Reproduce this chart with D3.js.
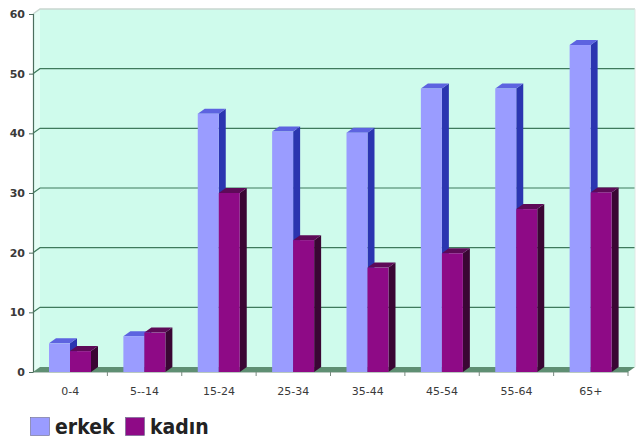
<!DOCTYPE html>
<html>
<head>
<meta charset="utf-8">
<script src="https://cdn.jsdelivr.net/npm/d3@7"></script>
<style>
  html, body { margin: 0; padding: 0; background: #ffffff; }
  svg { display: block; }
</style>
</head>
<body>
<svg id="chart" width="636" height="441"></svg>
<script>
// Age groups and values per series
const categories = ["0-4", "5--14", "15-24", "25-34", "35-44", "45-54", "55-64", "65+"];
const seriesNames = ["erkek", "kadın"];
const erkek = [4.8, 6.0, 43.3, 40.3, 40.1, 47.5, 47.5, 54.8];
const kadin = [3.5, 6.6, 30.0, 22.1, 17.5, 19.9, 27.3, 30.1];
const yTicks = [0, 10, 20, 30, 40, 50, 60];

const seriesValues = [erkek, kadin];
const palette = [
  { front: "#9a9cff", side: "#2b35b0", top: "#5d63e0" },
  { front: "#8e0a86", side: "#3a0634", top: "#5e0a58" }
];

const svg = d3.select("#chart");
const left = 33, right = 628, bottom = 372, topY = 14;
const dx = 7, dy = -5; // depth offset of the 3D box

const x = d3.scaleBand().domain(categories).range([left, right]);
const xs = d3.scaleBand().domain(seriesNames).range([16, 58]);
const y = d3.scaleLinear().domain([0, 60]).range([bottom, topY]);

// Back wall
svg.append("rect")
  .attr("x", left + dx).attr("y", y(60) + dy)
  .attr("width", right - left).attr("height", bottom - y(60))
  .attr("fill", "#cffbec");

// Side wall
svg.append("path")
  .attr("d", `M${left},${bottom}L${left},${y(60)}L${left + dx},${y(60) + dy}L${left + dx},${bottom + dy}Z`)
  .attr("fill", "#e4fdf4");

// Gridlines on the walls (top edge drawn faint)
yTicks.filter(t => t > 0).forEach(t => {
  svg.append("path")
    .attr("d", `M${left},${y(t)}L${left + dx},${y(t) + dy}L${right + dx},${y(t) + dy}`)
    .attr("fill", "none")
    .attr("stroke", t === 60 ? "#c9d6d0" : "#3f7a5c")
    .attr("stroke-width", t === 60 ? 1.5 : 1.2);
});
// Right edge of the back wall
svg.append("line")
  .attr("x1", right + dx).attr("x2", right + dx)
  .attr("y1", y(60) + dy).attr("y2", bottom + dy)
  .attr("stroke", "#dfe8e4");

// Floor
svg.append("path")
  .attr("d", `M${left},${bottom}L${left + dx},${bottom + dy}L${right + dx},${bottom + dy}L${right},${bottom}Z`)
  .attr("fill", "#5f8f73");

// Bars (side, top, front)
categories.forEach((c, i) => {
  seriesNames.forEach((s, j) => {
    const v = seriesValues[j][i];
    const x0 = x(c) + xs(s);
    const w = xs.bandwidth();
    const y0 = y(v);
    const col = palette[j];
    const g = svg.append("g");
    g.append("path")
      .attr("d", `M${x0 + w},${bottom}L${x0 + w},${y0}L${x0 + w + dx},${y0 + dy}L${x0 + w + dx},${bottom + dy}Z`)
      .attr("fill", col.side);
    g.append("path")
      .attr("d", `M${x0},${y0}L${x0 + dx},${y0 + dy}L${x0 + w + dx},${y0 + dy}L${x0 + w},${y0}Z`)
      .attr("fill", col.top);
    g.append("rect")
      .attr("x", x0).attr("y", y0)
      .attr("width", w).attr("height", bottom - y0)
      .attr("fill", col.front);
  });
});

// Y axis
const yAxis = svg.append("g").attr("transform", `translate(${left},0)`)
  .call(d3.axisLeft(y).tickValues(yTicks).tickSize(4).tickPadding(4).tickFormat(d3.format("d")));
yAxis.select(".domain").attr("stroke", "#4d6d5d").attr("stroke-width", 1.2);
yAxis.selectAll(".tick line").attr("stroke", "#4d6d5d");
yAxis.selectAll("text")
  .attr("fill", "#3a3a3a")
  .style("font-family", "'DejaVu Sans', Verdana, sans-serif")
  .style("font-size", "11px")
  .style("font-weight", "bold");

// X axis
const xAxis = svg.append("g").attr("transform", `translate(0,${bottom})`)
  .call(d3.axisBottom(x).tickSize(0).tickPadding(15));
xAxis.select(".domain").attr("stroke", "#b9c9c0").attr("stroke-width", 1);
xAxis.selectAll("text")
  .attr("fill", "#3a3a3a")
  .style("font-family", "'DejaVu Sans', Verdana, sans-serif")
  .style("font-size", "11px");

// Tick marks at category boundaries
svg.append("g").selectAll("line")
  .data(categories.slice(1).concat(["__end"]))
  .join("line")
  .attr("x1", (d, i) => left + (i + 1) * x.bandwidth())
  .attr("x2", (d, i) => left + (i + 1) * x.bandwidth())
  .attr("y1", bottom).attr("y2", bottom + 4)
  .attr("stroke", "#7a8a80");

// Legend
const legend = svg.append("g").attr("transform", "translate(30,417)");
const lx = [0, 95];
seriesNames.forEach((s, j) => {
  legend.append("rect")
    .attr("x", lx[j] + 0.5).attr("y", 0.5)
    .attr("width", 19).attr("height", 18)
    .attr("fill", palette[j].front)
    .attr("stroke", "#6a6a8a")
    .attr("stroke-width", 0.6);
  legend.append("text")
    .attr("x", lx[j] + 25).attr("y", 17)
    .attr("fill", "#222222")
    .style("font-family", "'DejaVu Sans Condensed', 'DejaVu Sans', sans-serif")
    .style("font-size", "21px")
    .style("font-weight", "bold")
    .text(s);
});
</script>
</body>
</html>
